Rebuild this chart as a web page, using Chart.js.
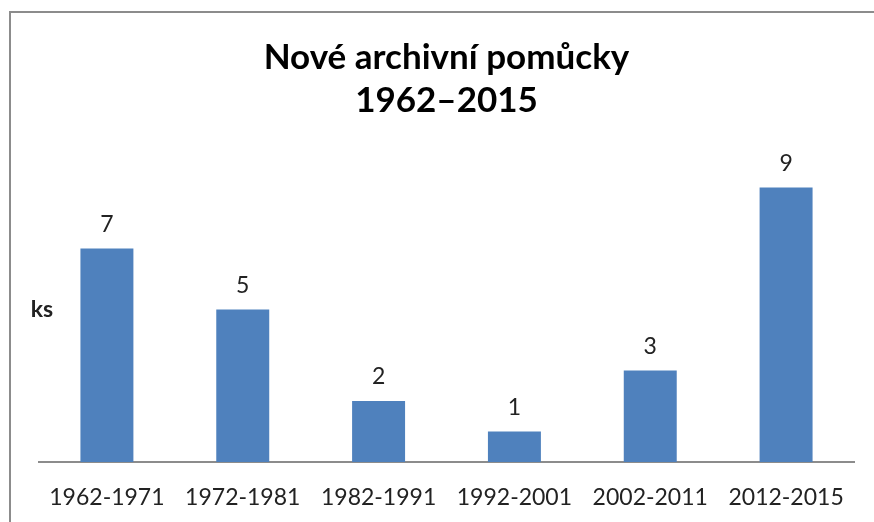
<!DOCTYPE html>
<html lang="cs">
<head>
  <meta charset="UTF-8">
  <title>Nové archivní pomůcky 1962–2015</title>
  <script src="https://cdn.jsdelivr.net/npm/chart.js"></script>
  <style>
    html, body { margin: 0; padding: 0; background: #fff; }
    #wrap { position: relative; width: 874px; height: 522px; overflow: hidden; }
    #frame { position: absolute; left: 9px; top: 11px; width: 900px; height: 600px;
             border-left: 2px solid #8c8c8c; border-top: 2px solid #8c8c8c; }
    canvas { position: absolute; left: 0; top: 0; }
  </style>
</head>
<body>
  <div id="wrap">
    <div id="frame"></div>
    <canvas id="chart" width="874" height="522"></canvas>
  </div>

  <script>
    const categories = ["1962-1971", "1972-1981", "1982-1991", "1992-2001", "2002-2011", "2012-2015"];
    const counts = [7, 5, 2, 1, 3, 9];
    const titleLines = ["Nové archivní pomůcky", "1962–2015"];
    const axisLabel = "ks";

    const FONT = "Lato, 'Open Sans', sans-serif";

    // value labels above bars + the horizontal "ks" label
    const extras = {
      id: "extras",
      afterDatasetsDraw(chart) {
        const ctx = chart.ctx;
        const area = chart.chartArea;
        ctx.save();
        ctx.fillStyle = "#222";
        ctx.textAlign = "center";
        ctx.font = "23px " + FONT;
        ctx.textBaseline = "alphabetic";
        chart.getDatasetMeta(0).data.forEach((bar, i) => {
          ctx.fillText(String(counts[i]), bar.x, bar.y - 17);
        });
        ctx.font = "bold 23px " + FONT;
        ctx.textBaseline = "middle";
        ctx.fillText(axisLabel, 42, (area.top + area.bottom) / 2);
        ctx.restore();
      }
    };

    new Chart(document.getElementById("chart"), {
      type: "bar",
      data: {
        labels: categories,
        datasets: [{
          data: counts,
          backgroundColor: "#4F81BD",
          categoryPercentage: 1,
          barPercentage: 0.39
        }]
      },
      options: {
        responsive: false,
        animation: false,
        layout: { padding: { left: 39, right: 20, top: 0, bottom: -3 } },
        plugins: {
          legend: { display: false },
          tooltip: { enabled: false },
          title: {
            display: true,
            text: titleLines,
            color: "#000",
            font: { family: FONT, size: 35, weight: "bold", lineHeight: 1.23 },
            padding: { top: 36, bottom: 35 }
          }
        },
        scales: {
          x: {
            grid: { display: false },
            border: { display: true, color: "#8c8c8c", width: 2 },
            ticks: { color: "#222", font: { family: FONT, size: 23, lineHeight: 1 }, padding: 16, maxRotation: 0 }
          },
          y: {
            display: false,
            min: 0,
            max: 10
          }
        }
      },
      plugins: [extras]
    });
  </script>
</body>
</html>
